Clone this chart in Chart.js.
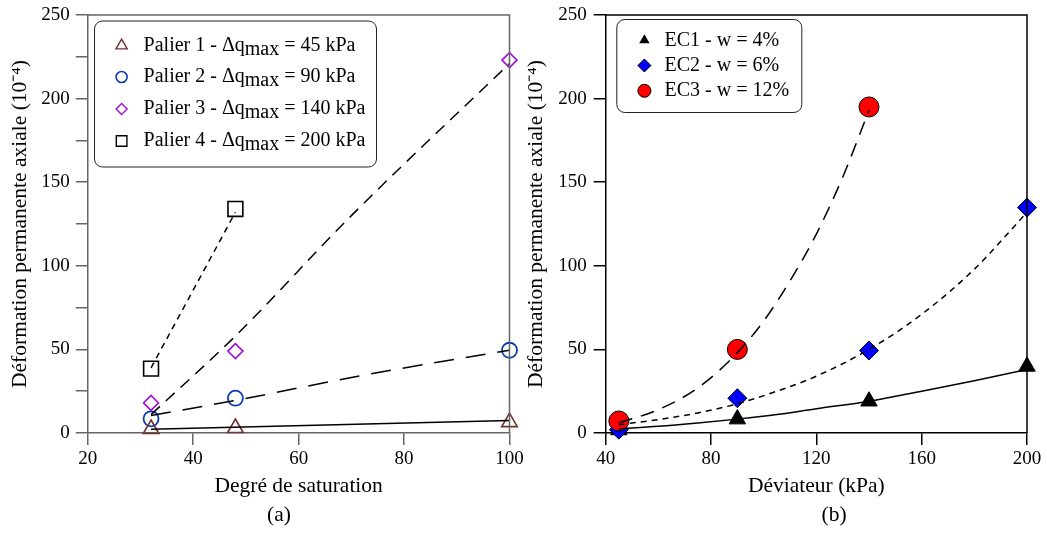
<!DOCTYPE html>
<html>
<head>
<meta charset="utf-8">
<script src="https://cdn.jsdelivr.net/npm/chart.js"></script>
<style>
  html, body { margin: 0; padding: 0; background: #fff; }
  #wrap { position: relative; width: 1047px; height: 534px; }
  .box { position: absolute; top: 0; height: 534px; }
  #left { left: 0; width: 540px; }
  #right { left: 520px; width: 527px; }
</style>
</head>
<body>
<div id="wrap">
  <div class="box" id="left"><canvas id="c1"></canvas></div>
  <div class="box" id="right"><canvas id="c2"></canvas></div>
</div>
<script>
// (a) Degré de saturation
const satX = [32, 48, 100];
const palier1 = [2.4, 3, 6.5];
const palier2 = [8.5, 20.8, 49.5];
const palier3 = [18, 49, 223];
const palier4X = [32, 48];
const palier4 = [38.5, 134];

// courbes de tendance (a)
const fit1X = [32, 100];
const fit1 = [2.2, 7.5];
const fit2X = [32, 48, 73, 100];
const fit2 = [10.5, 19.5, 35, 49.5];
const fit3X = [32, 48, 70, 100];
const fit3 = [11, 58, 130, 221];
const fit4X = [32, 48];
const fit4 = [39, 132];

// (b) Déviateur
const devX = [45, 90, 140, 200];
const ec1 = [1.8, 8.3, 19, 39.8];
const ec2 = [2, 20.8, 49.3, 134.8];
const ec3X = [45, 90, 140];
const ec3 = [7.2, 50, 195];

// courbes de tendance (b)
const ec1FitX = [45, 60, 75, 90, 105, 120, 140, 160, 180, 200];
const ec1Fit = [2.5, 4, 6, 8.3, 11, 14.5, 19, 25, 31.3, 38];
const ec2FitX = [45, 60, 75, 90, 105, 120, 140, 160, 180, 200];
const ec2Fit = [5, 8, 12, 17.5, 25, 34, 50, 71, 98, 132];
const ec3FitX = [45, 60, 75, 90, 100, 110, 120, 130, 140];
const ec3Fit = [6, 14, 27, 48, 67, 91, 119, 153, 193];

// ticks
const satTicks = [20, 40, 60, 80, 100];
const devTicks = [40, 80, 120, 160, 200];
const yTicks = [0, 50, 100, 150, 200, 250];
const yMinor = [25, 75, 125, 175, 225];

const SERIF = '"Liberation Serif", "Times New Roman", Times, serif';
Chart.defaults.font.family = SERIF;
Chart.defaults.font.size = 19;
Chart.defaults.color = '#000';

const pts = (xs, ys) => xs.map((x, i) => ({x: x, y: ys[i]}));

function marker(ctx, style, r, x, y, fill, stroke, lw) {
  ctx.save();
  ctx.beginPath();
  if (style === 'circle') {
    ctx.arc(x, y, r, 0, Math.PI * 2);
  } else if (style === 'triangle') {
    for (let k = 0; k < 3; k++) {
      const a = k * 2 * Math.PI / 3;
      const px = x + Math.sin(a) * r, py = y - Math.cos(a) * r;
      k ? ctx.lineTo(px, py) : ctx.moveTo(px, py);
    }
    ctx.closePath();
  } else if (style === 'rectRot') {
    ctx.moveTo(x, y - r); ctx.lineTo(x + r, y); ctx.lineTo(x, y + r); ctx.lineTo(x - r, y);
    ctx.closePath();
  } else {
    const s = r * Math.SQRT1_2;
    ctx.rect(x - s, y - s, 2 * s, 2 * s);
  }
  if (fill) { ctx.fillStyle = fill; ctx.fill(); }
  if (lw > 0) { ctx.strokeStyle = stroke; ctx.lineWidth = lw; ctx.stroke(); }
  ctx.restore();
}

function roundBox(ctx, x, y, w, h, r) {
  ctx.beginPath();
  ctx.moveTo(x + r, y);
  ctx.arcTo(x + w, y, x + w, y + h, r);
  ctx.arcTo(x + w, y + h, x, y + h, r);
  ctx.arcTo(x, y + h, x, y, r);
  ctx.arcTo(x, y, x + w, y, r);
  ctx.closePath();
}

// cadre haut/droite + légende + légende (a)/(b)
const decor = {
  id: 'decor',
  afterDraw(chart, args, o) {
    const ctx = chart.ctx, a = chart.chartArea;
    ctx.save();
    ctx.strokeStyle = o.frame;
    ctx.lineWidth = 1.5;
    ctx.beginPath();
    ctx.moveTo(a.left, a.top); ctx.lineTo(a.right, a.top); ctx.lineTo(a.right, a.bottom);
    ctx.stroke();

    ctx.fillStyle = '#fff';
    roundBox(ctx, o.box[0], o.box[1], o.box[2], o.box[3], 8);
    ctx.fill();
    ctx.strokeStyle = '#222';
    ctx.lineWidth = 1;
    ctx.stroke();

    ctx.font = '20px ' + SERIF;
    ctx.textBaseline = 'middle';
    ctx.fillStyle = '#000';
    o.items.forEach((it, i) => {
      const y = o.rowY[i];
      marker(ctx, it.style, it.r, o.markX, y, it.fill, it.stroke, it.lw);
      let x = o.textX;
      it.parts.forEach(p => {
        ctx.fillText(p.t, x, y + (p.sub ? 4 : 0));
        x += ctx.measureText(p.t).width;
      });
    });

    ctx.font = '21.5px ' + SERIF;
    ctx.textAlign = 'center';
    ctx.fillText(o.caption, o.capX, o.capY);
    ctx.restore();
  }
};

function axes(xmin, xmax, xTicks, xTitle, yList, col, yw, ytp, ytitlePad, bottom) {
  return {
    x: {
      type: 'linear', min: xmin, max: xmax,
      afterBuildTicks: s => { s.ticks = xTicks.map(v => ({value: v})); },
      ticks: { autoSkip: false, maxRotation: 0, padding: 3, color: '#000' },
      grid: { drawOnChartArea: false, tickLength: 12, color: col, lineWidth: 1.5 },
      border: { color: col, width: 1.5 },
      title: { display: true, text: xTitle, font: { size: 21.5 }, padding: { top: 0, bottom: 34.6 } },
      afterFit: s => { s.height = 534 - bottom; s.paddingLeft = 0; s.paddingRight = 0; }
    },
    y: {
      type: 'linear', min: 0, max: 250,
      afterBuildTicks: s => { s.ticks = yList.map(v => ({value: v})); },
      ticks: {
        autoSkip: false, padding: ytp, color: '#000',
        callback: v => (yTicks.includes(v) ? String(v) : '')
      },
      grid: { drawOnChartArea: false, tickLength: 12, color: col, lineWidth: 1.5 },
      border: { color: col, width: 1.5 },
      title: { display: true, text: 'Déformation permanente axiale (10\u207B\u2074)', font: { size: 21.5 }, padding: { top: ytitlePad, bottom: 0 } },
      afterFit: s => { s.width = yw; s.paddingTop = 0; s.paddingBottom = 0; }
    }
  };
}

const fitLine = (data, dash, curve) => ({
  data: data, showLine: true, pointRadius: 0, borderColor: '#000', borderWidth: 1.5,
  borderDash: dash, cubicInterpolationMode: curve ? 'monotone' : 'default', tension: 0,
  clip: false, order: 0
});
const scat = (data, style, r, fill, stroke, lw) => ({
  data: data, showLine: false, pointStyle: style, pointRadius: r,
  backgroundColor: fill, borderColor: stroke, pointBorderWidth: lw, clip: false, order: 1
});

const brown = '#6e3232', blue = '#0a3cb4', purple = '#a010d8';
const delta = '\u0394q';

new Chart(document.getElementById('c1'), {
  type: 'scatter',
  data: {
    datasets: [
      fitLine(pts(fit1X, fit1), [], false),
      fitLine(pts(fit2X, fit2), [20, 12], true),
      fitLine(pts(fit3X, fit3), [12, 8], true),
      fitLine(pts(fit4X, fit4), [6, 5], false),
      scat(pts(satX, palier1), 'triangle', 9, 'rgba(0,0,0,0)', brown, 1.6),
      scat(pts(satX, palier2), 'circle', 7.5, 'rgba(0,0,0,0)', blue, 1.8),
      scat(pts(satX, palier3), 'rectRot', 7.5, 'rgba(0,0,0,0)', purple, 1.6),
      scat(pts(palier4X, palier4), 'rect', 10.5, 'rgba(0,0,0,0)', '#000', 1.6)
    ]
  },
  options: {
    responsive: true, maintainAspectRatio: false, animation: false, events: [],
    layout: { padding: { left: 0, top: 15, right: 30.5, bottom: 0 } },
    scales: axes(20, 100, satTicks, 'Degré de saturation', yTicks.concat(yMinor).sort((a, b) => a - b), '#666', 87.8, 6, 7.1, 433),
    plugins: {
      legend: { display: false }, tooltip: { enabled: false },
      decor: {
        frame: '#666', box: [94.5, 21, 282, 146], markX: 121.6, textX: 143.6,
        rowY: [45.6, 77, 109, 141], caption: '(a)', capX: 279, capY: 515,
        items: [
          { style: 'triangle', r: 6.5, fill: null, stroke: brown, lw: 1.4, parts: [{t: 'Palier 1 - ' + delta}, {t: 'max', sub: true}, {t: ' = 45 kPa'}] },
          { style: 'circle', r: 5.5, fill: null, stroke: blue, lw: 1.6, parts: [{t: 'Palier 2 - ' + delta}, {t: 'max', sub: true}, {t: ' = 90 kPa'}] },
          { style: 'rectRot', r: 5.5, fill: null, stroke: purple, lw: 1.4, parts: [{t: 'Palier 3 - ' + delta}, {t: 'max', sub: true}, {t: ' = 140 kPa'}] },
          { style: 'rect', r: 7.5, fill: null, stroke: '#000', lw: 1.4, parts: [{t: 'Palier 4 - ' + delta}, {t: 'max', sub: true}, {t: ' = 200 kPa'}] }
        ]
      }
    }
  },
  plugins: [decor]
});

new Chart(document.getElementById('c2'), {
  type: 'scatter',
  data: {
    datasets: [
      fitLine(pts(ec1FitX, ec1Fit), [], true),
      fitLine(pts(ec2FitX, ec2Fit), [6, 5], true),
      fitLine(pts(ec3FitX, ec3Fit), [14, 9], true),
      scat(pts(ec3X, ec3), 'circle', 10, '#ff0000', '#000', 1),
      scat(pts(devX, ec2), 'rectRot', 9.5, '#0000ff', '#000', 1),
      scat(pts(devX, ec1), 'triangle', 9.5, '#000', '#000', 1)
    ]
  },
  options: {
    responsive: true, maintainAspectRatio: false, animation: false, events: [],
    layout: { padding: { left: 0, top: 15, right: 20, bottom: 0 } },
    scales: axes(40, 200, devTicks, 'Déviateur (kPa)', yTicks, '#000', 85.7, 7, 3.9, 433),
    plugins: {
      legend: { display: false }, tooltip: { enabled: false },
      decor: {
        frame: '#000', box: [96.8, 19.5, 185, 93], markX: 124.4, textX: 144.5,
        rowY: [40.3, 65.5, 90.8], caption: '(b)', capX: 314, capY: 515,
        items: [
          { style: 'triangle', r: 6, fill: '#000', stroke: '#000', lw: 0, parts: [{t: 'EC1 - w = 4%'}] },
          { style: 'rectRot', r: 6.5, fill: '#0000ff', stroke: '#000', lw: 1, parts: [{t: 'EC2 - w = 6%'}] },
          { style: 'circle', r: 6.5, fill: '#ff0000', stroke: '#000', lw: 1, parts: [{t: 'EC3 - w = 12%'}] }
        ]
      }
    }
  },
  plugins: [decor]
});
</script>
</body>
</html>
